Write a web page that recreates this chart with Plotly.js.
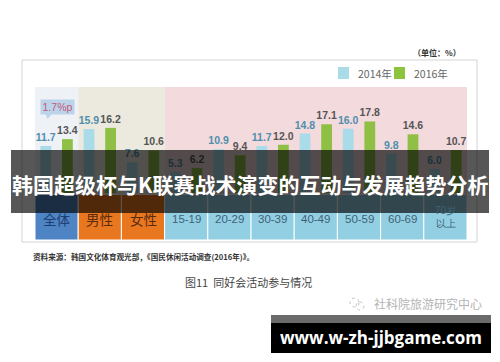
<!DOCTYPE html>
<html>
<head>
<meta charset="utf-8">
<script src="https://cdn.plot.ly/plotly-3.0.1.min.js"></script>
<style>
html,body{margin:0;padding:0;background:#fff;}
#chart{width:500px;height:362px;}
</style>
</head>
<body>
<div id="chart"></div>
<script>
// ---- data ----
var categories = ['全体','男性','女性','15-19','20-29','30-39','40-49','50-59','60-69','70岁以上'];
var cellLabels = ['全体','男性','女性','15-19','20-29','30-39','40-49','50-59','60-69','70岁<br>以上'];
var v2014 = [11.7, 15.9, 7.6, 5.3, 10.9, 11.7, 14.8, 16.0, 9.8, 6.0];
var v2016 = [13.4, 16.2, 10.6, 6.2, 9.4, 12.0, 17.1, 17.8, 14.6, 10.7];
var seriesNames = ['2014年','2016年'];
var callout = '1.7%p';
var unitText = '（单位：%）';
var sourceText = '资料来源：韩国文化体育观光部，《国民休闲活动调查(2016年)》。';
var figTitle = '图11  同好会活动参与情况';
var bannerText = '韩国超级杯与K联赛战术演变的互动与发展趋势分析';
var watermark = '社科院旅游研究中心';
var siteText = 'www.w-zh-jjbgame.com';

// ---- layout geometry ----
var W = 500, H = 362;
var M = {l: 35, r: 33, t: 87, b: 122};
var PW = W - M.l - M.r, PH = H - M.t - M.b;
function px(x){ return (x - M.l) / PW; }
function py(y){ return (H - M.b - y) / PH; }

var c2014 = '#a9dbe8', c2016 = '#8fbf45';
var CJK = '"Noto Sans CJK SC", "Noto Sans", sans-serif';
var NUM = '"Liberation Sans", Arial, sans-serif';

var traces = [
  {type:'bar', x:categories, y:v2014, name:seriesNames[0], marker:{color:c2014},
   text:v2014.map(function(v){return v.toFixed(1);}), textposition:'outside',
   textfont:{family:NUM, size:10.5, color:'#4f8fac', weight:'bold'}, cliponaxis:false,
   constraintext:'none', hoverinfo:'skip', showlegend:false},
  {type:'bar', x:categories, y:v2016, name:seriesNames[1], marker:{color:c2016},
   text:v2016.map(function(v){return v.toFixed(1);}), textposition:'outside',
   textfont:{family:NUM, size:10.5, color:'#555555', weight:'bold'}, cliponaxis:false,
   constraintext:'none', hoverinfo:'skip', showlegend:false}
];

var shapes = [];
var annotations = [];
function note(o){ o.showarrow = false; if(!o.xanchor) o.xanchor='center'; if(!o.yanchor) o.yanchor='middle'; annotations.push(o); }

// outer frame
shapes.push({type:'rect', xref:'paper', yref:'paper', x0:px(22), x1:px(477), y0:py(242), y1:py(60),
  line:{color:'#d4d4d4', width:1}, fillcolor:'rgba(0,0,0,0)', layer:'below'});

// background zones
var zones = [[-0.5,0.5,'#eef1f6'],[0.5,2.5,'#ece9de'],[2.5,9.5,'#f3dadd']];
zones.forEach(function(z){
  shapes.push({type:'rect', xref:'x', yref:'paper', x0:z[0], x1:z[1], y0:0, y1:1,
    line:{width:0}, fillcolor:z[2], layer:'below'});
});

// category cells
var cellFill = ['#4f84c4','#e9771f','#e9771f'];
var cellText = ['#1d3e70','#5a2b0c','#5a2b0c'];
categories.forEach(function(c,i){
  shapes.push({type:'rect', xref:'x', yref:'paper', x0:i-0.5, x1:i+0.5, y0:0, y1:py(194.5),
    line:{color:'#ffffff', width:1}, fillcolor: cellFill[i] || '#93cfe2', layer:'below'});
  var isAge = i >= 3;
  var twoLine = cellLabels[i].indexOf('<br>') >= 0;
  note({xref:'x', yref:'paper', x:c, y:py(twoLine ? 217 : 218.5), text:cellLabels[i],
    font:{family: isAge ? NUM : CJK, size: twoLine ? 10 : (isAge ? 11.5 : 13.5), color: cellText[i] || '#3d6276'},
    align:'center'});
});

// callout 1.7%p
note({xref:'paper', yref:'paper', x:px(57.5), y:py(106.5), text:callout,
  font:{family:NUM, size:10.5, color:'#c65879'}, bgcolor:'#bcd4ea', borderpad:1, width:31, height:12});
shapes.push({type:'path', xref:'paper', yref:'paper',
  path:'M'+px(45)+','+py(112.8)+' L'+px(53)+','+py(112.8)+' L'+px(47.5)+','+py(119)+' Z',
  fillcolor:'#bcd4ea', line:{width:0}, layer:'below'});

// manual legend
var legX = [338, 394], legC = [c2014, '#8cc43e'];
seriesNames.forEach(function(n,i){
  shapes.push({type:'rect', xref:'paper', yref:'paper', x0:px(legX[i]), x1:px(legX[i]+11), y0:py(79), y1:py(67),
    line:{width:0}, fillcolor:legC[i]});
  note({xref:'paper', yref:'paper', x:px(legX[i]+18), y:py(73.5), xanchor:'left', text:n,
    font:{family:CJK, size:10.5, color:'#666666'}});
});

// unit
note({xref:'paper', yref:'paper', x:px(463), y:py(53), xanchor:'right', text:unitText,
  font:{family:CJK, size:8, color:'#333333', weight:'bold'}});
// source
note({xref:'paper', yref:'paper', x:px(31), y:py(256), xanchor:'left', text:sourceText,
  font:{family:CJK, size:7.6, color:'#333333', weight:'bold'}});
// figure title
note({xref:'paper', yref:'paper', x:px(248), y:py(282), text:figTitle,
  font:{family:CJK, size:11, color:'#444444'}});
// watermark
note({xref:'paper', yref:'paper', x:px(372), y:py(303), xanchor:'left', text:watermark,
  font:{family:CJK, size:12, color:'#b4b4b4'}});
shapes.push({type:'circle', xref:'paper', yref:'paper', x0:px(350), x1:px(359), y0:py(307), y1:py(298),
  line:{color:'#c4c4c4', width:1, dash:'dot'}, fillcolor:'rgba(0,0,0,0)'});
shapes.push({type:'circle', xref:'paper', yref:'paper', x0:px(356), x1:px(364), y0:py(310), y1:py(302),
  line:{color:'#c4c4c4', width:1, dash:'dot'}, fillcolor:'rgba(0,0,0,0)'});

// site box
shapes.push({type:'rect', xref:'paper', yref:'paper', x0:px(271), x1:px(491), y0:py(323), y1:py(315),
  line:{width:0}, fillcolor:'#6a6a6a', layer:'above'});
shapes.push({type:'rect', xref:'paper', yref:'paper', x0:px(271), x1:px(491), y0:py(353), y1:py(323),
  line:{width:0}, fillcolor:'#000000', layer:'above'});
note({xref:'paper', yref:'paper', x:px(380.5), y:py(337.5), text:siteText,
  font:{family:'"Open Sans", "DejaVu Sans", sans-serif', size:17, color:'#ffffff', weight:'bold'}});

// banner
shapes.push({type:'rect', xref:'paper', yref:'paper', x0:px(11), x1:px(489), y0:py(213), y1:py(150),
  line:{width:0}, fillcolor:'rgba(0,0,0,0.66)', layer:'above'});
note({xref:'paper', yref:'paper', x:px(250), y:py(183.5), text:bannerText,
  font:{family:CJK, size:21, color:'#ffffff', weight:'bold'}});

var layout = {
  width: W, height: H,
  margin: M,
  paper_bgcolor:'#ffffff', plot_bgcolor:'rgba(0,0,0,0)',
  barmode:'group', bargap:0, bargroupgap:0.5,
  showlegend:false,
  xaxis:{type:'category', range:[-0.5,9.5], showticklabels:false, showgrid:false, zeroline:false,
         showline:false, ticks:'', fixedrange:true},
  yaxis:{range:[-11.69, 26.37], showticklabels:false, showgrid:false, zeroline:false,
         showline:false, ticks:'', fixedrange:true},
  shapes: shapes,
  annotations: annotations
};

Plotly.newPlot('chart', traces, layout, {displayModeBar:false, staticPlot:true});
</script>
</body>
</html>
